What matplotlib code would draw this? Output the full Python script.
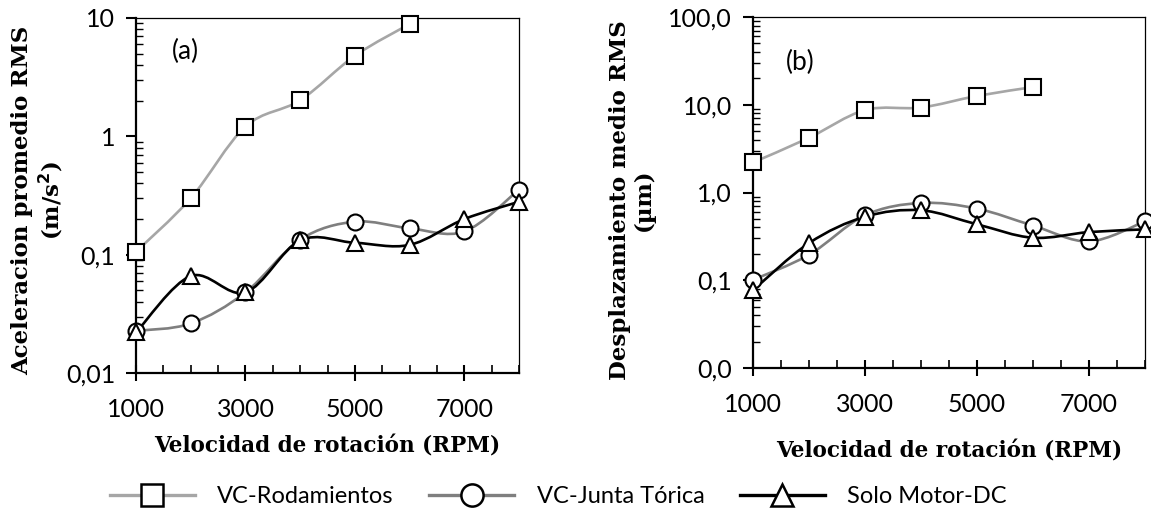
import numpy as np
import matplotlib
matplotlib.use("Agg")
import matplotlib.pyplot as plt
from matplotlib.path import Path
from matplotlib.patches import PathPatch
from matplotlib.lines import Line2D
from matplotlib.ticker import FixedLocator, FuncFormatter, LogLocator, NullFormatter

# ---------------------------------------------------
# Data
# ---------------------------------------------------
rpm = [1000, 2000, 3000, 4000, 5000, 6000, 7000, 8000]
rpm_rod = [1000, 2000, 3000, 4000, 5000, 6000]

# (a) aceleracion RMS (m/s2)
acc_rod = [0.106, 0.30, 1.21, 2.02, 4.8, 8.9]
acc_junta = [0.0227, 0.0262, 0.048, 0.134, 0.19, 0.167, 0.157, 0.355]
acc_motor = [0.022, 0.066, 0.048, 0.132, 0.126, 0.121, 0.20, 0.28]

# (b) desplazamiento RMS (um)
dsp_rod = [2.2, 4.2, 8.7, 9.3, 12.6, 15.9]
dsp_junta = [0.101, 0.195, 0.55, 0.76, 0.655, 0.42, 0.277, 0.469]
dsp_motor = [0.077, 0.265, 0.53, 0.627, 0.434, 0.305, 0.354, 0.38]

series_names = ["VC-Rodamientos", "VC-Junta Tórica", "Solo Motor-DC"]
line_colors = ["#a6a6a6", "#7f7f7f", "#000000"]
markers = ["s", "o", "^"]

plt.rcParams['font.family'] = ['Lato', 'DejaVu Sans']

TICK_FS = 18
LABEL_FS = 15.5


def smooth_path(x, y):
    """Excel-like smoothed line: cubic Bezier through points in (x, log y) space."""
    px = np.asarray(x, float)
    py = np.log10(np.asarray(y, float))
    n = len(px)
    verts = [(px[0], py[0])]
    codes = [Path.MOVETO]
    for i in range(n - 1):
        i0 = max(i - 1, 0)
        i3 = min(i + 2, n - 1)
        c1 = (px[i] + (px[i + 1] - px[i0]) / 6, py[i] + (py[i + 1] - py[i0]) / 6)
        c2 = (px[i + 1] - (px[i3] - px[i]) / 6, py[i + 1] - (py[i3] - py[i]) / 6)
        verts += [c1, c2, (px[i + 1], py[i + 1])]
        codes += [Path.CURVE4] * 3
    verts = [(vx, 10 ** vy) for vx, vy in verts]
    return Path(verts, codes)


def draw_series(ax, x, y, color, marker):
    ax.add_patch(PathPatch(smooth_path(x, y), facecolor="none", edgecolor=color,
                           lw=1.9, zorder=2, clip_on=False))
    ax.plot(x, y, ls="none", marker=marker, ms=11.5, mfc="white", mec="black",
            mew=1.5, zorder=3, clip_on=False)


def style_axes(ax, ymin, ymax, fmt):
    ax.set_yscale("log")
    ax.set_xlim(1000, 8000)
    ax.set_ylim(ymin, ymax)
    ax.xaxis.set_major_locator(FixedLocator([1000, 3000, 5000, 7000]))
    ax.xaxis.set_minor_locator(FixedLocator(np.arange(1000, 8001, 500)))
    ax.yaxis.set_major_locator(LogLocator(base=10, numticks=10))
    ax.yaxis.set_minor_locator(LogLocator(base=10, subs=np.arange(2, 10), numticks=10))
    ax.yaxis.set_major_formatter(FuncFormatter(fmt))
    ax.yaxis.set_minor_formatter(NullFormatter())
    ax.tick_params(axis="x", which="major", direction="inout", length=12, width=1.5,
                   labelsize=TICK_FS, pad=12)
    ax.tick_params(axis="x", which="minor", direction="in", length=6, width=1.2)
    ax.tick_params(axis="y", which="major", direction="out", length=7, width=1.5,
                   labelsize=TICK_FS, pad=8)
    ax.tick_params(axis="y", which="minor", direction="in", length=5, width=1.0)
    for side in ["left", "bottom"]:
        ax.spines[side].set_linewidth(1.6)
    for side in ["top", "right"]:
        ax.spines[side].set_linewidth(0.9)


fig = plt.figure(figsize=(11.51, 5.20), dpi=100)
ax1 = fig.add_axes([0.1182, 0.2827, 0.3328, 0.6827])
ax2 = fig.add_axes([0.6542, 0.2923, 0.3406, 0.6750])

# Panel (a)
for x, y, c, m in zip([rpm_rod, rpm, rpm], [acc_rod, acc_junta, acc_motor], line_colors, markers):
    draw_series(ax1, x, y, c, m)
style_axes(ax1, 0.01, 10, lambda v, p: f"{v:g}".replace(".", ","))
ax1.text(0.128, 0.905, "(a)", transform=ax1.transAxes, fontsize=19, ha="center", va="center")
ax1.set_xlabel("Velocidad de rotación (RPM)", family="DejaVu Serif", weight="bold",
               fontsize=LABEL_FS, va="center")
ax1.xaxis.set_label_coords(0.5, -0.206)
ax1.set_ylabel("Aceleracion promedio RMS\n(m/s$^{\\mathbf{2}}$)", family="DejaVu Serif",
               weight="bold", fontsize=16.5, linespacing=1.15, va="center")
ax1.yaxis.set_label_coords(-0.255, 0.487)

# Panel (b)
for x, y, c, m in zip([rpm_rod, rpm, rpm], [dsp_rod, dsp_junta, dsp_motor], line_colors, markers):
    draw_series(ax2, x, y, c, m)
style_axes(ax2, 0.01, 100, lambda v, p: f"{v:.1f}".replace(".", ","))
ax2.text(0.12, 0.87, "(b)", transform=ax2.transAxes, fontsize=19, ha="center", va="center")
ax2.set_xlabel("Velocidad de rotación (RPM)", family="DejaVu Serif", weight="bold",
               fontsize=LABEL_FS, va="center")
ax2.xaxis.set_label_coords(0.5, -0.239)
ax2.set_ylabel("Desplazamiento medio RMS\n(µm)", family="DejaVu Serif",
               weight="bold", fontsize=16.5, linespacing=1.15, va="center")
ax2.yaxis.set_label_coords(-0.309, 0.479)

# Legend
handles = [Line2D([], [], color=c, lw=2.4, marker=m, ms=16, mfc="white", mec="black", mew=1.8)
           for c, m in zip(line_colors, markers)]
fig.legend(handles, series_names, loc="center", bbox_to_anchor=(0.485, 0.045), ncol=3,
           frameon=False, fontsize=17, handlelength=3.6, columnspacing=1.5,
           handletextpad=0.95)

fig.savefig("out.png", dpi=100)
